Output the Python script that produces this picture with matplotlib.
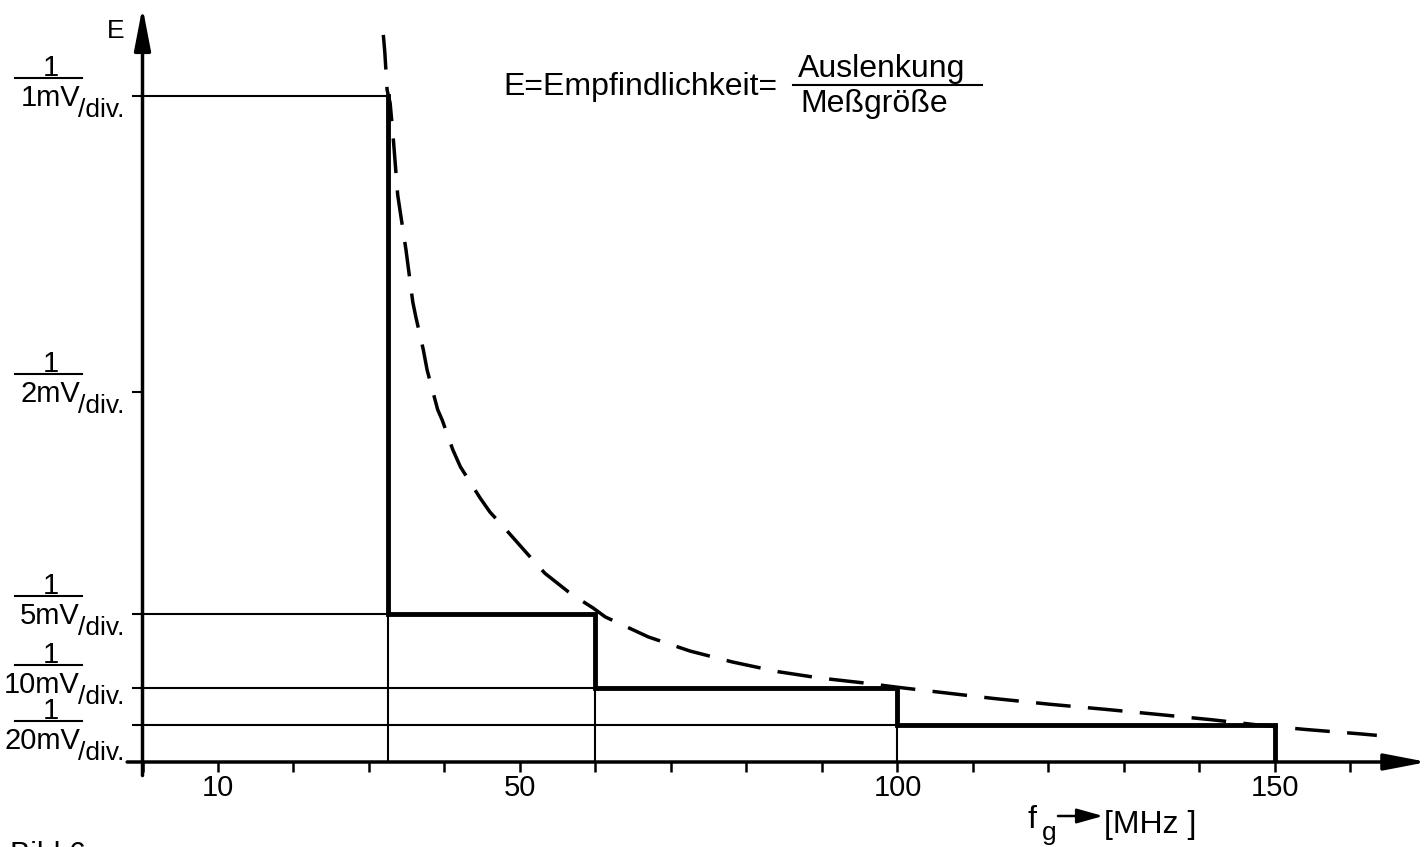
import numpy as np
import matplotlib.pyplot as plt
from matplotlib.lines import Line2D
from matplotlib.transforms import offset_copy

plt.rcParams['font.family'] = ['Liberation Sans', 'DejaVu Sans']

# sensitivity ranges (mV/div) and the bandwidth reached in each range
sens_mV = [1, 2, 5, 10, 20]
bandwidth_MHz = [32.5, 32.5, 60, 100, 150]
levels = [1.0 / s for s in sens_mV]

# dashed hand-drawn envelope E(f)
curve_f = [31.9, 32.1, 32.4, 32.8, 33.2, 33.8, 34.2, 34.9, 35.8, 36.2, 37.2, 37.7,
           39.1, 39.7, 41.1, 42.1, 44.7, 46.0, 48.4, 51.7, 53.3, 56.4, 58.0, 59.7,
           61.3, 67.0, 72.5, 78.2, 84.2, 89.7, 95.4, 100.0, 105.0, 112.6, 120.2,
           127.7, 134.8, 141.7, 147.8, 154.0, 161.3, 163.5]
curve_E = [1.103, 1.073, 1.01, 0.988, 0.931, 0.833, 0.799, 0.74, 0.652, 0.627, 0.571,
           0.537, 0.476, 0.462, 0.422, 0.399, 0.357, 0.338, 0.311, 0.273, 0.255, 0.23,
           0.219, 0.208, 0.196, 0.169, 0.150, 0.135, 0.122, 0.1135, 0.107, 0.101, 0.095,
           0.086, 0.078, 0.071, 0.064, 0.057, 0.050, 0.044, 0.038, 0.036]

x_labels = [10, 50, 100, 150]
x_minor = list(range(0, 170, 10))

# layout: vertical shift of each y label (px, down positive)
label_shift = [0, 0, 0, -5, 14]


def fwd(e):
    e = np.asarray(e, dtype=float)
    return np.where(e <= 0.5, e, 0.5 + 0.8 * (e - 0.5))


def inv(h):
    h = np.asarray(h, dtype=float)
    return np.where(h <= 0.5, h, 0.5 + (h - 0.5) / 0.8)


def pt(px):
    return px * 0.72


fig = plt.figure(figsize=(14.25, 8.47), dpi=100)
ax = fig.add_axes([0.1, 0.10035, 0.898, 0.8878])
ax.set_yscale('function', functions=(fwd, inv))
ax.set_xlim(0, 169.5)
ax.set_ylim(0, 1.145)
for s in ax.spines.values():
    s.set_visible(False)

# axes with arrow heads
arrow = dict(arrowstyle='-|>,head_length=2.6,head_width=0.5', lw=2.5, color='black',
             shrinkA=0, shrinkB=0, mutation_scale=10)
ax.annotate('', xy=(1.004, 0), xytext=(-0.012, 0), xycoords='axes fraction', arrowprops=arrow)
ax.annotate('', xy=(0, 1.004), xytext=(0, -0.018), xycoords='axes fraction', arrowprops=arrow)

ax.set_xticks(x_labels)
ax.set_xticklabels([str(v) for v in x_labels])
ax.set_xticks(x_minor, minor=True)
ax.tick_params(axis='x', which='both', direction='out', length=7, width=1.8,
               labelsize=21, pad=1.5)
ax.set_yticks(levels)
ax.set_yticklabels([''] * len(levels))
ax.yaxis.set_minor_locator(plt.NullLocator())
ax.tick_params(axis='y', direction='out', length=8, width=1.5)

# thin construction lines
thin = dict(color='black', lw=1.5)
ax.plot([0, bandwidth_MHz[0]], [levels[0], levels[0]], **thin)
for i in range(1, len(levels)):
    if bandwidth_MHz[i] != bandwidth_MHz[i - 1]:
        ax.plot([0, bandwidth_MHz[i - 1]], [levels[i], levels[i]], **thin)
        ax.plot([bandwidth_MHz[i - 1]] * 2, [0, levels[i]], **thin)

# thick step curve
xs = [bandwidth_MHz[0]]
ys = [levels[0]]
for i in range(1, len(levels)):
    xs += [bandwidth_MHz[i - 1], bandwidth_MHz[i]]
    ys += [levels[i], levels[i]]
xs.append(bandwidth_MHz[-1])
ys.append(0)
ax.plot(xs, ys, color='black', lw=3.5, solid_joinstyle='miter')

# dashed envelope
ax.plot(curve_f, curve_E, color='black', lw=2.5, linestyle=(0, (10, 5)))

# y labels as fractions  1 / (x mV/div.)
axw_px = 1425 * 0.898
ytr = ax.get_yaxis_transform()
for s, lv, sh in zip(sens_mV, levels, label_shift):
    dy = -sh
    ax.annotate(f'{s}mV', xy=(0, lv), xycoords=ytr, xytext=(pt(-62.5), pt(dy - 10.5)),
                textcoords='offset points', ha='right', va='baseline', fontsize=21)
    ax.annotate('/div.', xy=(0, lv), xycoords=ytr, xytext=(pt(-64), pt(dy - 21.5)),
                textcoords='offset points', ha='left', va='baseline', fontsize=19)
    tb = offset_copy(ytr, fig=fig, x=0, y=pt(dy + 18), units='points')
    ax.plot([-127.5 / axw_px, -60.5 / axw_px], [lv, lv], transform=tb, clip_on=False,
            color='black', lw=1.5)
    ax.annotate('1', xy=(0, lv), xycoords=ytr, xytext=(pt(-91.5), pt(dy + 20)),
                textcoords='offset points', ha='center', va='baseline', fontsize=21)

# texts
W, H = 1425.0, 847.0
fig.text(107 / W, 1 - 38 / H, 'E', fontsize=19, va='baseline')
fig.text(503 / W, 1 - 95 / H, 'E=Empfindlichkeit=', fontsize=23, va='baseline')
fig.text(798 / W, 1 - 77 / H, 'Auslenkung', fontsize=23, va='baseline')
fig.text(800 / W, 1 - 112 / H, 'Meßgröße', fontsize=23, va='baseline')
fig.add_artist(Line2D([793 / W, 982 / W], [1 - 85 / H] * 2, color='black', lw=1.5))

# axis name  f_g -> [MHz ]
fig.text(1028 / W, 1 - 828 / H, 'f', fontsize=23, va='baseline')
fig.text(1042 / W, 1 - 840 / H, 'g', fontsize=19, va='baseline')
ax.annotate('', xy=(1103 / W, 1 - 816 / H), xytext=(1058 / W, 1 - 816 / H),
            xycoords='figure fraction',
            arrowprops=dict(arrowstyle='-|>,head_length=1.6,head_width=0.45', lw=1.8,
                            color='black', shrinkA=0, shrinkB=0, mutation_scale=10))
fig.text(1104 / W, 1 - 833 / H, '[MHz ]', fontsize=23, va='baseline')
fig.text(10 / W, 1 - 841 / H, 'Bild 6', fontsize=22, va='top')

fig.savefig('out.png', dpi=100)
